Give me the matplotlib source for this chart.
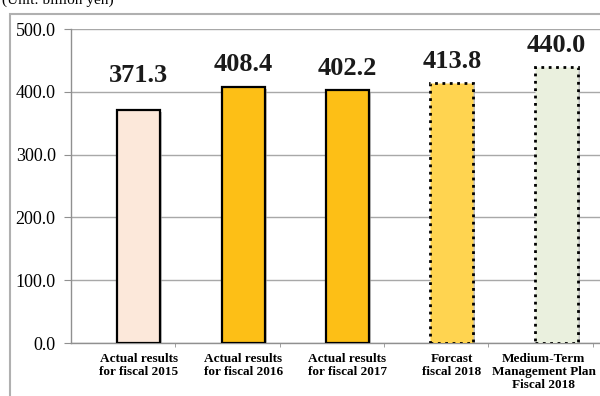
import matplotlib
matplotlib.use("Agg")
import matplotlib.pyplot as plt
from matplotlib.patches import Rectangle
import matplotlib.patheffects as pe

categories = [
    "Actual results\nfor fiscal 2015",
    "Actual results\nfor fiscal 2016",
    "Actual results\nfor fiscal 2017",
    "Forcast\nfiscal 2018",
    "Medium-Term\nManagement Plan\nFiscal 2018",
]
values = [371.3, 408.4, 402.2, 413.8, 440.0]
fill_colors = ["#FCE8DA", "#FDBF16", "#FDBF16", "#FFD450", "#EAF0DE"]
edge_styles = ["solid", "solid", "solid", "dotted", "dotted"]
yticks = [0, 100, 200, 300, 400, 500]

plt.rcParams["font.family"] = ["Liberation Serif", "DejaVu Serif"]

fig = plt.figure(figsize=(6.0, 3.96), dpi=100)
W, H = 600, 396

# outer frame around the chart area
fig.patches.append(Rectangle((10 / W, -0.05), 1.2, (396 - 14) / H + 0.05,
                             transform=fig.transFigure, fill=False,
                             edgecolor="#B0B0B0", linewidth=1.5, zorder=0))
fig.text(2 / W, 1.0, "(Unit: billion yen)", fontsize=11, ha="left", va="center")

ax = fig.add_axes([71 / W, (H - 343) / H, (600 - 71) / W, (343 - 29) / H])
ax.set_facecolor("none")

x0 = -0.65
for i, (v, fc, ls) in enumerate(zip(values, fill_colors, edge_styles)):
    lw = 1.6 if ls == "solid" else 2.0
    bar = ax.bar(i, v, width=0.41, color=fc, edgecolor="black", linewidth=lw,
                 linestyle=ls, zorder=3)[0]
    bar.set_path_effects([pe.SimplePatchShadow(offset=(1.5, -1.5), shadow_rgbFace="#9a9a9a", alpha=0.6),
                          pe.Normal()])
    lift = 37 if i == 0 else 16
    ax.text(i, v + lift, f"{v:.1f}", ha="center", va="bottom", fontsize=19,
            fontweight="bold", color="#1a1a1a", zorder=4)

ax.set_xlim(x0, 4.42)
ax.set_ylim(0, 500)
ax.set_yticks(yticks)
ax.set_yticklabels([f"{t:.1f}" for t in yticks], fontsize=13)
ax.yaxis.grid(True, color="#A8A8A8", linewidth=1.0, zorder=0)
ax.set_axisbelow(True)

# category labels (the last one is nudged left so it stays inside the frame)
ax.set_xticks([0, 1, 2, 3, 3.88])
ax.set_xticklabels(categories, fontsize=9.5, fontweight="bold", linespacing=1.15)
ax.set_xticks([x0 + k for k in range(1, 6)], minor=True)
ax.tick_params(axis="x", which="major", length=0, pad=7)
ax.tick_params(axis="x", which="minor", length=3, color="#909090")
ax.tick_params(axis="y", length=5, color="#909090", pad=6)

for side in ["top", "right"]:
    ax.spines[side].set_visible(False)
for side in ["left", "bottom"]:
    ax.spines[side].set_color("#909090")
    ax.spines[side].set_linewidth(1.0)

fig.savefig("out.png", dpi=100)
